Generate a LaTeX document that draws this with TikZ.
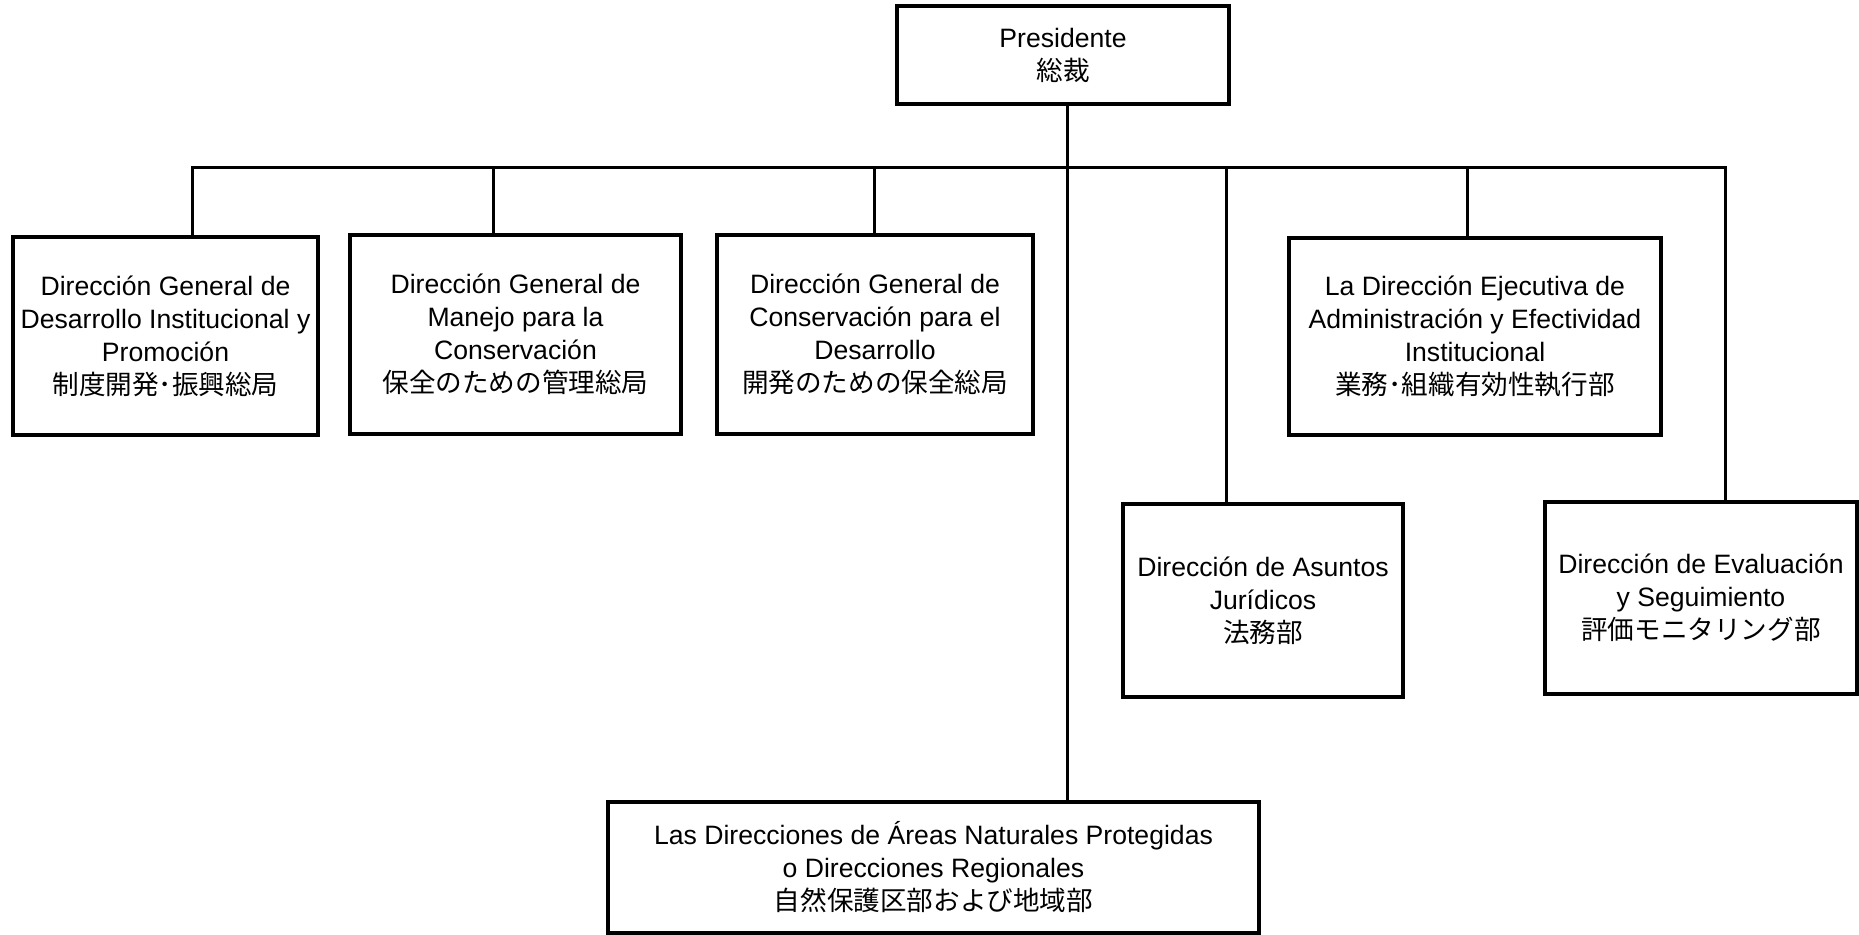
\documentclass[tikz,border=0pt]{standalone}
\usepackage{fontspec}
\setmainfont{Liberation Sans}
\newfontfamily\jp{Noto Sans CJK JP}
\begin{document}
\begin{tikzpicture}[x=0.5pt,y=-0.5pt,
  box/.style={draw=black,line width=2pt,fill=white,inner sep=0pt,align=center,
    font=\fontsize{13.3}{16.5}\selectfont},
  conn/.style={draw=black,line width=1.5pt}]
\useasboundingbox (0,0) rectangle (1859,934);
\node[box,minimum width=332*0.5pt,minimum height=98*0.5pt] (pres) at (1063,55) {Presidente\\{\jp 総裁}};
\node[box,minimum width=305*0.5pt,minimum height=198*0.5pt] (b1) at (165.5,336) {Dirección General de\\Desarrollo Institucional y\\Promoción\\{\jp 制度開発･振興総局}};
\node[box,minimum width=331*0.5pt,minimum height=199*0.5pt] (b2) at (515.5,334.5) {Dirección General de\\Manejo para la\\Conservación\\{\jp 保全のための管理総局}};
\node[box,minimum width=316*0.5pt,minimum height=199*0.5pt] (b3) at (875,334.5) {Dirección General de\\Conservación para el\\Desarrollo\\{\jp 開発のための保全総局}};
\node[box,minimum width=372*0.5pt,minimum height=197*0.5pt] (b4) at (1475,336.5) {La Dirección Ejecutiva de\\Administración y Efectividad\\Institucional\\{\jp 業務･組織有効性執行部}};
\node[box,minimum width=280*0.5pt,minimum height=193*0.5pt] (b5) at (1263,600.5) {Dirección de Asuntos\\Jurídicos\\{\jp 法務部}};
\node[box,minimum width=312*0.5pt,minimum height=192*0.5pt] (b6) at (1701,598) {Dirección de Evaluación\\y Seguimiento\\{\jp 評価モニタリング部}};
\node[box,minimum width=651*0.5pt,minimum height=131*0.5pt] (b7) at (933.5,867.5) {Las Direcciones de Áreas Naturales Protegidas\\o Direcciones Regionales\\{\jp 自然保護区部および地域部}};
\coordinate (k1) at (192,167);
\coordinate (k2) at (493,167);
\coordinate (k3) at (874,167);
\coordinate (kt) at (1067,167);
\coordinate (k5) at (1226,167);
\coordinate (k4) at (1467,167);
\coordinate (k6) at (1725,167);
\draw[conn] (b1.north -| k1) -- (k1) -- (k6) -- (b6.north -| k6);
\draw[conn] (pres.south -| kt) -- (b7.north -| kt);
\draw[conn] (k2) -- (b2.north -| k2);
\draw[conn] (k3) -- (b3.north -| k3);
\draw[conn] (k4) -- (b4.north -| k4);
\draw[conn] (k5) -- (b5.north -| k5);
\end{tikzpicture}
\end{document}
